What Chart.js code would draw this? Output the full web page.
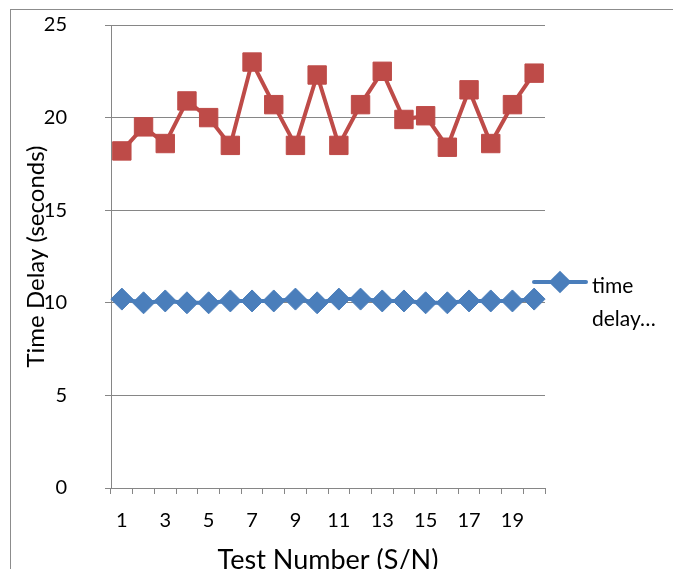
<!DOCTYPE html>
<html lang="en">
<head>
<meta charset="utf-8"/>
<title>Time Delay</title>
<script src="https://cdn.jsdelivr.net/npm/chart.js"></script>
<style>
  html, body { margin: 0; padding: 0; background: #fff; }
  body { width: 673px; height: 569px; overflow: hidden; position: relative; font-family: 'Lato', sans-serif; }
  .frame {
    position: absolute; left: 10px; top: 9px; width: 700px; height: 600px;
    border: 1.5px solid #8c8c8c;
  }
  #chart { position: absolute; left: 0; top: 0; }
  .legend { position: absolute; left: 532px; top: 268px; color: #000; font-size: 21px; }
  .legend .line { position: absolute; left: 0; top: 12px; width: 56px; height: 4px; background: #4a7ebb; border-radius: 2px; }
  .legend .diamond { position: absolute; left: 20px; top: 6px; width: 16px; height: 16px; background: #4a7ebb; transform: rotate(45deg); }
  .legend .text { position: absolute; left: 60px; top: 0; width: 90px; line-height: 33px; }
</style>
</head>
<body>
<div class="frame"></div>
<canvas id="chart" width="673" height="600"></canvas>
<div class="legend">
  <span class="line"></span><span class="diamond"></span>
  <div class="text">time<br>delay…</div>
</div>
<script>
const testNumbers = ['1','2','3','4','5','6','7','8','9','10','11','12','13','14','15','16','17','18','19','20'];
const blueDelay = [10.2, 10.0, 10.1, 10.0, 10.0, 10.1, 10.1, 10.1, 10.2, 10.0, 10.2, 10.2, 10.1, 10.1, 10.0, 10.0, 10.1, 10.1, 10.1, 10.2];
const redDelay = [18.2, 19.5, 18.6, 20.9, 20.0, 18.5, 23.0, 20.7, 18.5, 22.3, 18.5, 20.7, 22.5, 19.9, 20.1, 18.4, 21.5, 18.6, 20.7, 22.4];
const yTicks = [0, 5, 10, 15, 20, 25];

const axisGray = '#868686';
const tickFont = { family: 'Lato', size: 20 };

new Chart(document.getElementById('chart'), {
  type: 'line',
  data: {
    labels: testNumbers,
    datasets: [
      {
        label: 'time delay...',
        data: blueDelay,
        borderColor: '#4a7ebb',
        backgroundColor: '#4a7ebb',
        borderWidth: 4,
        pointStyle: 'rectRot',
        pointRadius: 11,
        pointBorderWidth: 1,
        tension: 0
      },
      {
        label: 'time delay 2',
        data: redDelay,
        borderColor: '#be4b48',
        backgroundColor: '#be4b48',
        borderWidth: 4,
        pointStyle: 'rect',
        pointRadius: 13,
        pointBorderWidth: 1,
        tension: 0
      }
    ]
  },
  options: {
    responsive: false,
    animation: false,
    layout: { padding: { left: 14, right: 128, top: 25, bottom: 0 } },
    plugins: { legend: { display: false }, tooltip: { enabled: false } },
    scales: {
      x: {
        offset: true,
        grid: { offset: true, drawOnChartArea: false, drawTicks: true, tickLength: 6, color: axisGray },
        border: { color: axisGray, width: 1 },
        ticks: {
          autoSkip: false, maxRotation: 0, padding: 15, color: '#000', font: tickFont,
          callback: (v, i) => i % 2 === 0 ? testNumbers[i] : ''
        },
        title: { display: true, text: 'Test Number (S/N)', color: '#000', font: { family: 'Lato', size: 27 }, padding: { top: 0, bottom: 24 } },
        afterFit: s => { s.height = 112; }
      },
      y: {
        min: 0, max: 25,
        afterBuildTicks: s => { s.ticks = yTicks.map(v => ({ value: v })); },
        grid: { color: axisGray, tickLength: 6 },
        border: { color: axisGray, width: 1 },
        ticks: { padding: 38, color: '#000', font: tickFont },
        title: { display: true, text: 'Time Delay (seconds)', color: '#000', font: { family: 'Lato', size: 24 }, padding: { top: 8, bottom: 0 } },
        afterFit: s => { s.width = 97; s.paddingTop = 12; s.paddingBottom = 12; }
      }
    }
  }
});
</script>
</body>
</html>
